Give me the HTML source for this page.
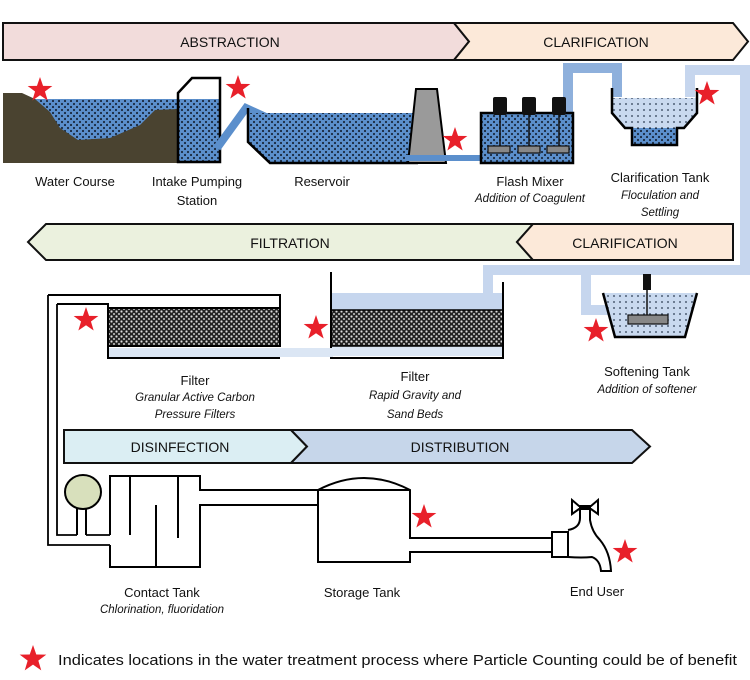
<!DOCTYPE html>
<html><head><meta charset="utf-8"><style>
html,body{margin:0;padding:0;background:#fff;}
svg{display:block;}
text{font-family:"Liberation Sans",sans-serif;fill:#111;}
.it{font-style:italic;}
</style></head><body>
<svg width="750" height="680" viewBox="0 0 750 680" xmlns="http://www.w3.org/2000/svg">
<defs>
<pattern id="dots" width="6" height="6" patternUnits="userSpaceOnUse"><rect width="6" height="6" fill="#5b8fcc"/><circle cx="2" cy="2" r="1.1" fill="#1a2a40"/><circle cx="5" cy="5" r="1.1" fill="#1a2a40"/></pattern>
<pattern id="ldots" width="6" height="6" patternUnits="userSpaceOnUse"><rect width="6" height="6" fill="#c9d9ef"/><circle cx="2" cy="2" r="0.9" fill="#2a3a50"/></pattern>
<pattern id="media" width="5" height="5" patternUnits="userSpaceOnUse"><rect width="5" height="5" fill="#222"/><circle cx="1.5" cy="1.5" r="1.1" fill="#ddd"/><circle cx="4" cy="4" r="1" fill="#ccc"/></pattern>
<symbol id="star" viewBox="-10 -10 20 20"><polygon points="0,-10 2.35,-3.2 9.5,-3.1 3.8,1.2 5.9,8.1 0,4 -5.9,8.1 -3.8,1.2 -9.5,-3.1 -2.35,-3.2" fill="#e8202a"/></symbol>
</defs>

<polygon points="3,23 454,23 469,41.5 454,60 3,60" fill="#f2dcdb" stroke="#111" stroke-width="2"/>
<polygon points="454,23 733,23 748,41.5 733,60 454,60 469,41.5" fill="#fce9d9" stroke="#111" stroke-width="2"/>
<text x="230" y="47" font-size="14" text-anchor="middle">ABSTRACTION</text>
<text x="596" y="47" font-size="14" text-anchor="middle">CLARIFICATION</text>

<path d="M568,113 V68 H617 V97" fill="none" stroke="#8eb0dc" stroke-width="10"/>
<path d="M690,97 V70 H745 V270 H488 V296" fill="none" stroke="#c6d6ee" stroke-width="10"/>
<path d="M586,270 V310 H612" fill="none" stroke="#c6d6ee" stroke-width="10"/>

<rect x="35" y="99" width="145" height="60" fill="url(#dots)"/>
<path d="M3,93 L22,93 L35,99 L50,112 L60,128 L78,140 L110,138 L140,125 L155,110 L178,109 L178,163 L3,163 Z" fill="#4a4330"/>
<rect x="179" y="99" width="41" height="63" fill="url(#dots)"/>
<path d="M178,162 V93 L192,78 H220 V162 Z" fill="none" stroke="#000" stroke-width="2.5"/>
<path d="M217,148 L246,108 L268,118" fill="none" stroke="#5b8fcc" stroke-width="8"/>
<path d="M248,113 H418 V163 H270 L248,142 Z" fill="url(#dots)"/>
<path d="M248,108 V142 L270,163 H418" fill="none" stroke="#000" stroke-width="2.5"/>
<polygon points="416,89 437,89 446,163 408,163" fill="#9a9a9a" stroke="#000" stroke-width="2"/>
<path d="M405,158 H485" stroke="#5b8fcc" stroke-width="6"/>
<rect x="481" y="113" width="92" height="50" fill="url(#dots)" stroke="#000" stroke-width="2.5"/>
<g fill="#111"><rect x="493" y="97" width="14" height="18" rx="2"/><rect x="522" y="97" width="14" height="18" rx="2"/><rect x="552" y="97" width="14" height="18" rx="2"/></g>
<g stroke="#111" stroke-width="1.5"><line x1="500" y1="115" x2="500" y2="146"/><line x1="529" y1="115" x2="529" y2="146"/><line x1="559" y1="115" x2="559" y2="146"/></g>
<g fill="#888" stroke="#111" stroke-width="1.2"><rect x="488" y="146" width="22" height="7"/><rect x="518" y="146" width="22" height="7"/><rect x="547" y="146" width="22" height="7"/></g>
<path d="M612,98 H697 V113 L684,128 H625 L612,113 Z" fill="url(#ldots)"/>
<rect x="632" y="128" width="45" height="17" fill="url(#dots)"/>
<path d="M612,88 V113 L625,128 H632 V145 H677 V128 H684 L697,113 V88" fill="none" stroke="#000" stroke-width="2.5"/>

<text x="75" y="186" font-size="13" text-anchor="middle">Water Course</text>
<text x="197" y="186" font-size="13" text-anchor="middle">Intake Pumping</text>
<text x="197" y="205" font-size="13" text-anchor="middle">Station</text>
<text x="322" y="186" font-size="13" text-anchor="middle">Reservoir</text>
<text x="530" y="186" font-size="13" text-anchor="middle">Flash Mixer</text>
<text x="530" y="202" font-size="11.5" text-anchor="middle" class="it">Addition of Coagulent</text>
<text x="660" y="182" font-size="13" text-anchor="middle">Clarification Tank</text>
<text x="660" y="199" font-size="11.5" text-anchor="middle" class="it">Floculation and</text>
<text x="660" y="216" font-size="11.5" text-anchor="middle" class="it">Settling</text>

<polygon points="46,224 533,224 517,242 533,260 46,260 28,242" fill="#ebf1de" stroke="#111" stroke-width="2"/>
<polygon points="533,224 733,224 733,260 533,260 517,242" fill="#fce9d9" stroke="#111" stroke-width="2"/>
<text x="290" y="248" font-size="14" text-anchor="middle">FILTRATION</text>
<text x="625" y="248" font-size="14" text-anchor="middle">CLARIFICATION</text>

<polygon points="603,293 697,293 685,337 615,337" fill="url(#ldots)"/>
<path d="M603,293 L615,337 H685 L697,293" fill="none" stroke="#000" stroke-width="2.5"/>
<rect x="643" y="274" width="8" height="16" fill="#111"/>
<line x1="647" y1="290" x2="647" y2="316" stroke="#111" stroke-width="1.5"/>
<rect x="628" y="315" width="40" height="9" fill="#888" stroke="#111" stroke-width="1.2"/>

<rect x="331" y="293" width="172" height="17" fill="#c6d6ee"/>
<rect x="331" y="310" width="172" height="36" fill="url(#media)"/>
<rect x="331" y="346" width="172" height="10" fill="#dbe6f4"/>
<path d="M331,272 V358 H503 V282" fill="none" stroke="#000" stroke-width="2"/>
<rect x="108" y="308" width="172" height="38" fill="url(#media)"/>
<rect x="108" y="348" width="225" height="9" fill="#dbe6f4"/>
<path d="M48,295 H280 V347" fill="none" stroke="#000" stroke-width="2"/>
<path d="M57,304 H108 V358 H280" fill="none" stroke="#000" stroke-width="2"/>
<line x1="108" y1="308" x2="280" y2="308" stroke="#000" stroke-width="2"/>
<line x1="108" y1="346" x2="280" y2="346" stroke="#000" stroke-width="2"/>
<line x1="331" y1="310" x2="503" y2="310" stroke="#000" stroke-width="1.5"/>
<line x1="331" y1="346" x2="503" y2="346" stroke="#000" stroke-width="1.5"/>
<path d="M48,295 V545 H110" fill="none" stroke="#000" stroke-width="1.8"/>
<path d="M57,304 V535 H77" fill="none" stroke="#000" stroke-width="1.8"/>
<path d="M86,535 H110" fill="none" stroke="#000" stroke-width="1.8"/>

<text x="195" y="385" font-size="13" text-anchor="middle">Filter</text>
<text x="195" y="401" font-size="11.5" text-anchor="middle" class="it">Granular Active Carbon</text>
<text x="195" y="418" font-size="11.5" text-anchor="middle" class="it">Pressure Filters</text>
<text x="415" y="381" font-size="13" text-anchor="middle">Filter</text>
<text x="415" y="399" font-size="11.5" text-anchor="middle" class="it">Rapid Gravity and</text>
<text x="415" y="418" font-size="11.5" text-anchor="middle" class="it">Sand Beds</text>
<text x="647" y="376" font-size="13" text-anchor="middle">Softening Tank</text>
<text x="647" y="393" font-size="11.5" text-anchor="middle" class="it">Addition of softener</text>

<polygon points="64,430 291,430 307,446.5 291,463 64,463" fill="#dbeef3" stroke="#111" stroke-width="2"/>
<polygon points="291,430 632,430 650,446.5 632,463 291,463 307,446.5" fill="#c6d6ea" stroke="#111" stroke-width="2"/>
<text x="180" y="452" font-size="14" text-anchor="middle">DISINFECTION</text>
<text x="460" y="452" font-size="14" text-anchor="middle">DISTRIBUTION</text>

<g fill="none" stroke="#000" stroke-width="2">
<line x1="77" y1="505" x2="77" y2="535"/><line x1="86" y1="505" x2="86" y2="535"/>
<path d="M110,535 V476 H200 V490 H318"/>
<path d="M110,545 V567 H200 V505 H318"/>
<line x1="130" y1="476" x2="130" y2="535"/>
<line x1="156" y1="567" x2="156" y2="505"/>
<line x1="178" y1="476" x2="178" y2="538"/>
<path d="M318,490 V562 H410 V552 H552"/>
<path d="M318,490 Q364,466 410,490 V538 H552"/>
<line x1="318" y1="490" x2="410" y2="490"/>
<path d="M552,532 H568 V557 H552 Z"/>
<path d="M568,530 Q580,528 580,518 V508 H590 V520 Q592,532 600,540 Q610,552 611,571 H601 Q600,560 592,557 Q582,558 568,557"/>
<path d="M572,500 L579,506 L591,506 L598,500 L598,514 L591,509 L579,509 L572,514 Z"/>
</g>
<ellipse cx="83" cy="492" rx="18" ry="17" fill="#d8e0bc" stroke="#000" stroke-width="2"/>

<text x="162" y="597" font-size="13" text-anchor="middle">Contact Tank</text>
<text x="162" y="613" font-size="11.5" text-anchor="middle" class="it">Chlorination, fluoridation</text>
<text x="362" y="597" font-size="13" text-anchor="middle">Storage Tank</text>
<text x="597" y="596" font-size="13" text-anchor="middle">End User</text>

<use href="#star" x="27" y="77" width="26" height="26"/>
<use href="#star" x="225" y="75" width="26" height="26"/>
<use href="#star" x="442" y="127" width="26" height="26"/>
<use href="#star" x="694" y="81" width="26" height="26"/>
<use href="#star" x="73" y="307" width="26" height="26"/>
<use href="#star" x="303" y="315" width="26" height="26"/>
<use href="#star" x="583" y="318" width="26" height="26"/>
<use href="#star" x="411" y="504" width="26" height="26"/>
<use href="#star" x="612" y="539" width="26" height="26"/>
<use href="#star" x="19" y="645" width="28" height="28"/>
<text x="58" y="665" font-size="15" textLength="679" lengthAdjust="spacingAndGlyphs">Indicates locations in the water treatment process where Particle Counting could be of benefit</text>
</svg>
</body></html>
